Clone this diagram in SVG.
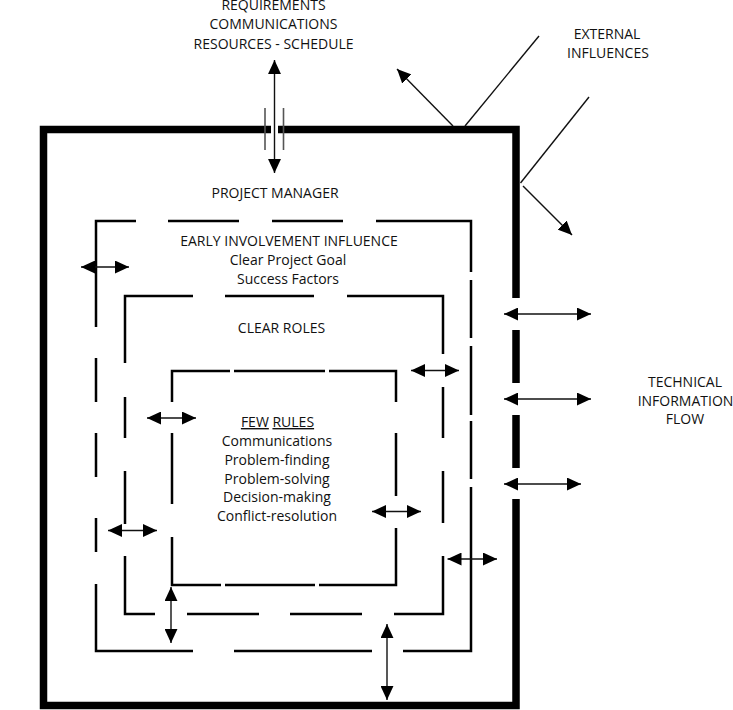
<svg xmlns="http://www.w3.org/2000/svg" width="733" height="710" viewBox="0 0 733 710">
<style>
text{font-family:"Open Sans","Liberation Sans",sans-serif;font-size:14px;fill:#111;text-anchor:middle}
.frame{fill:none;stroke:#000;stroke-width:7.5;stroke-linejoin:miter}
.dash{fill:none;stroke:#000;stroke-width:2.5;stroke-linejoin:miter}
.arr{fill:none;stroke:#111;stroke-width:1.4;marker-start:url(#ah);marker-end:url(#ah)}
.one{fill:none;stroke:#111;stroke-width:1.4;marker-end:url(#ah)}
.thin{fill:none;stroke:#111;stroke-width:1.4}
.tick{fill:none;stroke:#555;stroke-width:1.6}
</style>
<defs>
<marker id="ah" markerUnits="userSpaceOnUse" markerWidth="14" markerHeight="13" viewBox="0 0 13 12" refX="13" refY="6" orient="auto-start-reverse">
<path d="M0,0 L13,6 L0,12 z" fill="#000"/>
</marker>
</defs>
<rect width="733" height="710" fill="#fff"/>
<g id="frame">
<path class="frame" d="M271,129.5 H43.5 V705.5 H516 V499 M516,468 V415 M516,383 V330 M516,298 V129.5 H278"/>
</g>
<g id="early-involvement">
<path class="dash" d="M136,221 H96 V327 M96,358 V402 M96,433 V477 M96,518 V552 M96,584 V651 H193 M234,651 H372 M403,651 H471 V487 M471,479 V421 M471,415 V346 M471,338 V280 M471,272 V221 H376 M343,221 H272 M239,221 H168"/>
<text x="289" y="246">EARLY INVOLVEMENT INFLUENCE</text>
<text x="288" y="265">Clear Project Goal</text>
<text x="288" y="283.5">Success Factors</text>
</g>
<g id="clear-roles">
<path class="dash" d="M193,296 H125 V363 M125,397 V438 M125,471 V524 M125,556 V614 H155 M187,614 H259 M290,614 H362 M394,614 H443 V556 M443,523 V471 M443,438 V387 M443,354 V296 H347 M314,296 H225"/>
<text x="281.5" y="333">CLEAR ROLES</text>
</g>
<g id="few-rules">
<path class="dash" d="M230,371 H172 V402 M172,433 V504 M172,537 V585 H221 M225,585 H315 M319,585 H396 V528 M396,496 V433 M396,402 V371 H329 M325,371 H234"/>
<text x="277.5" y="427"><tspan text-decoration="underline">FEW</tspan> <tspan text-decoration="underline">RULES</tspan></text>
<text x="277" y="446">Communications</text>
<text x="277" y="465">Problem-finding</text>
<text x="277" y="484">Problem-solving</text>
<text x="277" y="502">Decision-making</text>
<text x="277" y="520.5">Conflict-resolution</text>
</g>
<g id="project-manager">
<text x="275" y="198">PROJECT MANAGER</text>
</g>
<g id="requirements">
<text x="273.5" y="10">REQUIREMENTS</text>
<text x="273.5" y="29">COMMUNICATIONS</text>
<text x="273.5" y="48.5">RESOURCES - SCHEDULE</text>
</g>
<g id="external-influences">
<text x="607" y="39">EXTERNAL</text>
<text x="608" y="58">INFLUENCES</text>
</g>
<g id="technical-information-flow">
<text x="685" y="386.5">TECHNICAL</text>
<text x="685.5" y="405.5">INFORMATION</text>
<text x="685" y="424">FLOW</text>
</g>
<g id="connectors">
<line class="tick" x1="265" y1="108" x2="265" y2="150"/>
<line class="tick" x1="283.5" y1="108" x2="283.5" y2="150"/>
<line class="arr" x1="274.5" y1="60" x2="274.5" y2="173"/>
<line class="thin" x1="465" y1="126" x2="539" y2="36"/>
<line class="one" x1="453" y1="126" x2="397" y2="69"/>
<line class="thin" x1="520.5" y1="183" x2="589" y2="97"/>
<line class="one" x1="523" y1="186" x2="572" y2="235"/>
<line class="arr" x1="81" y1="267" x2="129" y2="267"/>
<line class="arr" x1="411" y1="370.5" x2="459" y2="370.5"/>
<line class="arr" x1="147" y1="418" x2="196" y2="418"/>
<line class="arr" x1="372" y1="511.5" x2="421" y2="511.5"/>
<line class="arr" x1="108" y1="530.5" x2="157" y2="530.5"/>
<line class="arr" x1="447.5" y1="559" x2="497" y2="559"/>
<line class="arr" x1="504" y1="314" x2="591" y2="314"/>
<line class="arr" x1="504" y1="399" x2="591" y2="399"/>
<line class="arr" x1="504" y1="484" x2="581" y2="484"/>
<line class="arr" x1="171" y1="587" x2="171" y2="643"/>
<line class="arr" x1="387" y1="624" x2="387" y2="700"/>
</g>
</svg>
